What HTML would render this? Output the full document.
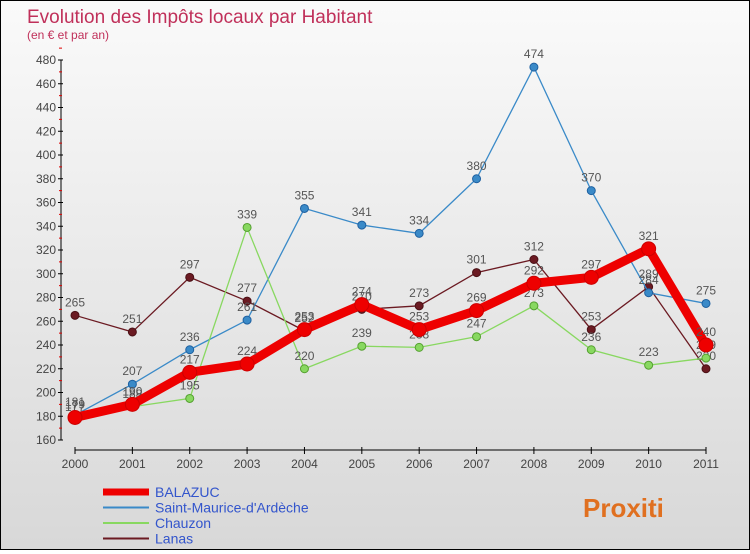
<!DOCTYPE html>
<html><head><meta charset="utf-8"><style>
body{margin:0;width:750px;height:550px;overflow:hidden;font-family:"Liberation Sans","DejaVu Sans",sans-serif}
#wrap{position:relative;width:748px;height:548px;border:1px solid #000;background:linear-gradient(#fafafa,#d8d8d8)}
</style></head><body>
<div id="wrap">
<svg id="chart" width="748" height="548"></svg>
</div>
<script>
const years=["2000","2001","2002","2003","2004","2005","2006","2007","2008","2009","2010","2011"];
const balazuc=[179,190,217,224,253,274,253,269,292,297,321,240];
const stMaurice=[181,207,236,261,355,341,334,380,474,370,284,275];
const chauzon=[177,188,195,339,220,239,238,247,273,236,223,229];
const lanas=[265,251,297,277,252,270,273,301,312,253,289,220];
const yTicks=[160,180,200,220,240,260,280,300,320,340,360,380,400,420,440,460,480];
const NS="http://www.w3.org/2000/svg";
const svg=document.getElementById('chart');
const x=i=>74+i*(705-74)/11;
const y=v=>439-(v-160)*1.1875;
function mk(t,a,p){const e=document.createElementNS(NS,t);for(const k in a)e.setAttribute(k,a[k]);(p||svg).appendChild(e);return e;}
let t=mk('text',{x:26,y:22,fill:'#c0305a','font-size':19});t.textContent='Evolution des Impôts locaux par Habitant';

t=mk('text',{x:26,y:38,fill:'#c0305a','font-size':12});t.textContent='(en € et par an)';

let g=mk('g',{});
mk('line',{x1:60,y1:y(480),x2:60,y2:y(160),stroke:'#000'},g);
yTicks.forEach(v=>{mk('line',{x1:57,x2:62,y1:y(v),y2:y(v),stroke:'#000'},g);
mk('line',{x1:58,x2:61,y1:y(v+10),y2:y(v+10),stroke:'#d00'},g);
const tt=mk('text',{x:55,y:y(v)+4,'text-anchor':'end','font-size':12,fill:'#444'},g);tt.textContent=v;});
g=mk('g',{});
mk('line',{x1:x(0),x2:x(11),y1:449,y2:449,stroke:'#000'},g);
years.forEach((yr,i)=>{mk('line',{x1:x(i),x2:x(i),y1:446,y2:453,stroke:'#000'},g);
const tt=mk('text',{x:x(i),y:467,'text-anchor':'middle','font-size':12,fill:'#444'},g);tt.textContent=yr;});
function series(d,col,dark,w,r,name){
const sg=mk('g',{});
mk('polyline',{points:d.map((v,i)=>x(i)+','+y(v)).join(' '),fill:'none',stroke:col,'stroke-width':w},sg);
d.forEach((v,i)=>{const c=mk('circle',{cx:x(i),cy:y(v),r:r,fill:col,stroke:dark,'stroke-width':1},sg);

const tt=mk('text',{x:x(i),y:y(v)-9,'text-anchor':'middle','font-size':12,fill:'#555'},sg);tt.textContent=v;});
}
series(lanas,'#6b1a22','#4a1015',1.3,4,'series-lanas');
series(stMaurice,'#3a8ac8','#1e60a0',1.3,4,'series-saint-maurice');
series(chauzon,'#88d860','#55a030',1.3,4,'series-chauzon');
series(balazuc,'#ee0000','#c00',9,7,'series-balazuc');
const leg=[['BALAZUC','#ee0000',7],['Saint-Maurice-d\'Ardèche','#3a8ac8',2],['Chauzon','#88d860',2],['Lanas','#6b1a22',2]];
leg.forEach((l,i)=>{const lg=mk('g',{});
const yy=491+i*15.5;mk('line',{x1:102,x2:148,y1:yy,y2:yy,stroke:l[1],'stroke-width':l[2]},lg);
const tt=mk('text',{x:154,y:yy+5,'font-size':14,fill:'#3355cc'},lg);tt.textContent=l[0];});
t=mk('text',{x:582,y:516,'font-size':26,'font-weight':'bold',fill:'#e07020'});t.textContent='Proxiti';

</script>
</body></html>
